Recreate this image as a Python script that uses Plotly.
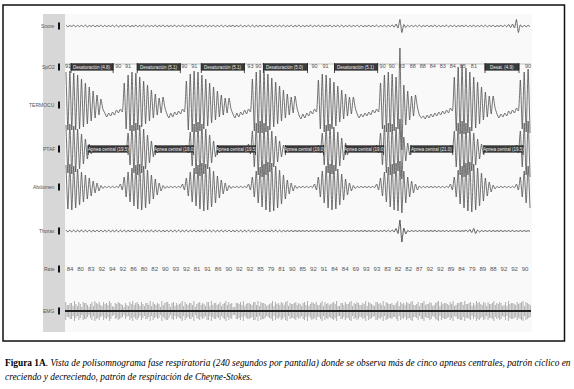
import plotly.graph_objects as go

# ---------------- data ----------------
SLOT = 2.0          # seconds per breath slot (120 slots = 240 s screen)
RATE_EPOCH = 5.45   # seconds between printed heart-rate values

channels = ["Snore", "SpO2", "TERMOCU", "PTAF", "Abdomen", "Thorax", "Rate", "EMG"]

termocu_hi = [33, 34, 32, 30, 26, 22, 18, 14, 10,
              6, -8, -8, -7, -5, -4,
              22, 30, 33, 32, 28, 24, 20, 15, 11, 7,
              8, -9, -8, -7, -6, -4,
              24, 31, 34, 33, 30, 26, 22, 18, 14, 10, 7,
              7, -9, -8, -7, -5, -4,
              26, 33, 35, 34, 31, 27, 23, 19, 15, 11, 8,
              9, -10, -9, -8, -6, -4,
              25, 31, 30, 27, 23, 19, 15, 11, 8,
              8, -9, -9, -8, -7, -5, -4,
              22, 30, 33, 31, 28, 57, 20, 14, 9,
              10, -10, -11, -10, -9, -8, -7, -6, -5, -3,
              28, 38, 40, 37, 33, 28, 23, 18, 13, 9,
              9, -9, -9, -8, -6, -5, -3,
              25, 33, 36]
termocu_lo = [-25, -25, -25, -24, -22, -19, -16, -13, -10,
              -4, -12, -11, -10, -8, -7,
              -24, -26, -26, -25, -22, -19, -16, -13, -10, -8,
              -3, -13, -12, -10, -9, -7,
              -25, -27, -27, -26, -24, -21, -18, -15, -12, -10, -8,
              -4, -13, -12, -10, -9, -7,
              -26, -28, -28, -27, -25, -22, -19, -16, -13, -10, -8,
              -3, -14, -13, -11, -9, -7,
              -24, -27, -26, -24, -21, -17, -14, -11, -9,
              -3, -13, -12, -11, -10, -8, -7,
              -24, -27, -27, -26, -24, -45, -20, -15, -11,
              -2, -13, -14, -13, -12, -11, -10, -9, -8, -6,
              -26, -29, -29, -28, -26, -23, -19, -15, -12, -9,
              -3, -13, -12, -11, -9, -8, -6,
              -24, -27, -28]
ptaf_amp = [24, 25, 23, 20, 15, 10,
            5, 2, 1, 0.6, 0.6, 0.6, 0.6, 0.6, 0.6, 3,
            16, 24, 26, 24, 20, 14, 8,
            4, 1, 0.6, 0.6, 0.6, 0.6, 0.6, 0.6, 4,
            17, 25, 27, 25, 20, 14, 8,
            4, 1, 0.6, 0.6, 0.6, 0.6, 0.6, 0.6, 5,
            18, 26, 28, 26, 23, 18, 13, 8, 4,
            1, 0.6, 0.6, 0.6, 0.6, 0.6, 0.6, 0.6, 4,
            16, 24, 25, 22, 17, 11, 6,
            2, 0.6, 0.6, 0.6, 0.6, 0.6, 0.6, 4,
            16, 24, 26, 25, 22, 30, 12, 6,
            2, 0.6, 0.6, 0.6, 0.6, 0.6, 0.6, 0.6, 0.6, 0.6, 4,
            18, 26, 28, 26, 22, 16, 10, 5,
            2, 0.6, 0.6, 0.6, 0.6, 0.6, 0.6, 0.6, 4,
            18, 26, 28]
abdomen_amp = [22, 23, 21, 18, 15, 12, 9, 6, 4,
               1.5, 0.7, 0.7, 0.7, 0.7, 3,
               10, 15, 19, 22, 23, 21, 17, 12, 8, 4,
               1.5, 0.7, 0.7, 0.7, 0.7, 3,
               9, 15, 19, 22, 24, 23, 20, 16, 11, 7, 4,
               1.5, 0.7, 0.7, 0.7, 0.7, 3,
               10, 16, 20, 23, 25, 24, 21, 17, 12, 7, 4,
               1.5, 0.7, 0.7, 0.7, 0.7, 3,
               10, 16, 21, 23, 22, 18, 13, 8, 4,
               1.5, 0.7, 0.7, 0.7, 0.7, 0.7, 3,
               9, 15, 20, 23, 24, 26, 16, 10, 6,
               3, 1, 0.7, 0.7, 0.7, 0.7, 0.7, 0.7, 0.7, 3,
               10, 17, 21, 24, 25, 23, 19, 14, 9, 5,
               2, 0.7, 0.7, 0.7, 0.7, 0.7, 3,
               10, 16, 21]
snore_amp = [0.8, 0.5, 0.9, 0.6, 0.7, 1.0, 0.5, 0.8, 0.6, 0.9,
             0.7, 0.5, 0.8, 1.0, 0.6, 0.7, 0.9, 0.5, 0.8, 0.6,
             0.9, 0.7, 0.5, 0.8, 0.6, 1.0, 0.7, 0.5, 0.9, 0.6,
             0.8, 0.5, 0.7, 0.9, 0.6, 0.8, 1.0, 0.5, 0.7, 0.6,
             0.9, 0.8, 0.5, 0.7, 0.6, 0.9, 0.5, 0.8, 1.0, 0.6,
             0.7, 0.9, 0.5, 0.8, 0.6, 0.7, 0.9, 0.5, 0.8, 0.6,
             1.0, 0.7, 0.5, 0.9, 0.6, 0.8, 0.7, 0.5, 0.9, 0.6,
             0.8, 1.0, 0.5, 0.7, 0.6, 0.9, 0.8, 0.5, 0.7, 0.6,
             0.9, 0.5, 0.8, 0.7, 1.2, 2.0, 6.5, 1.5, 0.8, 0.6,
             0.7, 0.9, 0.5, 0.8, 0.6, 1.0, 0.7, 0.5, 0.9, 0.6,
             0.8, 0.5, 0.7, 0.9, 0.6, 0.8, 0.5, 0.7, 0.9, 0.6,
             0.8, 0.5, 0.7, 0.9, 1.5, 2.0, 6.5, 1.2, 0.7, 0.6]
thorax_amp = [0.9, 0.8, 0.9, 0.7, 0.9, 0.8, 0.9, 0.7, 0.8, 0.9,
              0.8, 0.9, 0.7, 0.9, 0.8, 0.9, 0.7, 0.8, 0.9, 0.8,
              0.9, 0.7, 0.9, 0.8, 0.9, 0.7, 0.8, 0.9, 0.8, 0.9,
              0.7, 0.9, 0.8, 0.9, 0.7, 0.8, 0.9, 0.8, 0.9, 0.7,
              0.9, 0.8, 0.9, 0.7, 0.8, 0.9, 0.8, 0.9, 0.7, 0.9,
              0.8, 0.9, 0.7, 0.8, 0.9, 0.8, 0.6, 0.5, 0.5, 0.4,
              0.4, 0.4, 0.5, 0.4, 0.4, 0.5, 0.4, 0.4, 0.5, 0.4,
              0.4, 0.5, 0.4, 0.4, 0.5, 0.4, 0.4, 0.5, 0.4, 0.4,
              0.5, 0.4, 0.6, 0.8, 1.0, 2.5, 11.0, 3.0, 0.6, 0.4,
              0.4, 0.4, 0.5, 0.4, 0.4, 0.5, 0.4, 0.4, 0.5, 0.4,
              0.4, 0.5, 0.4, 0.8, 1.5, 2.5, 1.0, 0.4, 0.4, 0.5,
              0.4, 0.4, 0.5, 0.4, 0.4, 0.5, 0.4, 0.4, 0.5, 0.4]
# EMG: tall bursts and, in between them, shorter ones
emg_amp = [9, 6, 8, 10, 5, 7, 9, 8, 4, 9, 10, 7, 6, 9, 8, 10, 5, 8, 9, 7,
           4, 6, 9, 10, 8, 7, 9, 5, 8, 10, 9, 6, 7, 10, 8, 9, 4, 9, 8, 7,
           10, 9, 6, 8, 10, 7, 9, 8, 5, 9, 10, 8, 6, 9, 7, 10, 9, 8, 4, 8,
           9, 10, 7, 8, 6, 9, 10, 9, 8, 5, 7, 10, 9, 8, 9, 6, 10, 8, 7, 9,
           8, 5, 9, 10, 7, 8, 9, 6, 10, 9, 8, 7, 9, 10, 5, 8, 9, 7, 10, 8,
           9, 6, 8, 10, 9, 7, 5, 9, 8, 10, 9, 7, 8, 6, 10, 9, 8, 9, 7, 10,
           6, 9, 8, 10, 7, 9, 5, 8, 10, 9, 8, 7, 9, 10, 6, 8, 9, 10, 7, 9,
           8, 10, 9, 6, 8, 9, 7, 10, 8, 9, 5, 9, 10, 8, 7, 9, 8, 10, 9, 7]
emg_amp_mid = [6, 8, 5, 7, 9, 4, 8, 6, 7, 5, 8, 9, 5, 7, 6, 8, 4, 7, 8, 6,
               8, 5, 7, 6, 9, 5, 7, 8, 6, 5, 7, 8, 4, 6, 9, 7, 8, 5, 6, 8,
               5, 7, 8, 6, 4, 8, 6, 7, 9, 5, 6, 8, 7, 5, 8, 6, 7, 4, 8, 7,
               6, 5, 8, 7, 9, 6, 5, 8, 7, 6, 8, 5, 7, 6, 8, 9, 5, 7, 8, 6,
               7, 8, 6, 5, 9, 7, 6, 8, 5, 7, 6, 8, 7, 5, 8, 6, 7, 9, 5, 7,
               8, 6, 7, 5, 8, 6, 9, 7, 6, 5, 8, 7, 6, 8, 5, 7, 6, 8, 9, 6,
               7, 5, 8, 6, 7, 8, 6, 9, 5, 7, 8, 6, 7, 5, 8, 9, 6, 7, 8, 5,
               6, 8, 7, 9, 5, 7, 8, 6, 7, 8, 6, 5, 7, 8, 6, 7, 9, 5, 8, 6]
rate_vals = [84, 80, 83, 92, 94, 92, 86, 80, 82, 90, 93, 92, 81, 91, 86, 90, 92, 92, 85, 79, 81, 90,
             85, 92, 91, 84, 84, 69, 93, 93, 83, 82, 82, 87, 92, 92, 89, 84, 79, 89, 88, 92, 92, 90]
spo2_t = [1.6, 27.4, 32.5, 61.4, 66.6, 95.5, 99.6, 128.5, 134.2, 163.6, 168.3, 173.4,
          179.1, 184.3, 189.4, 194.6, 199.7, 204.9, 210.6, 238.5]
spo2_vals = [91, 90, 91, 90, 91, 93, 90, 90, 91, 90, 90, 83, 88, 88, 84, 83, 84, 85, 81, 90]
desat_start = [3.1, 37.2, 70.2, 102.2, 138.8, 216.3]
desat_end = [24.8, 59.4, 92.4, 124.9, 161.0, 233.8]
desat_label = ["Desaturación (4.8)", "Desaturación (5.1)", "Desaturación (5.1)",
               "Desaturación (5.0)", "Desaturación (5.1)", "Desat. (4.9)"]
apnea_start = [11.9, 46.5, 78.5, 113.5, 144.5, 178.1, 215.7]
apnea_end = [32.5, 66.1, 98.1, 133.2, 164.1, 199.7, 235.9]
apnea_label = ["Apnea central (19.5)", "Apnea central (19.0)", "Apnea central (19.5)",
               "Apnea central (19.0)", "Apnea central (19.0)", "Apnea central (21.0)",
               "Apnea central (19.5)"]

caption_1 = ("<b>Figura 1A</b><i>. Vista de polisomnograma fase respiratoria (240 segundos por pantalla) "
             "donde se observa más de cinco apneas centrales, patrón cíclico en</i>")
caption_2 = "<i>creciendo y decreciendo, patrón de respiración de Cheyne-Stokes.</i>"

# ---------------- layout constants ----------------
W, H = 574, 389
X0, X1 = 65, 531            # signal area (pixels)
base = {"Snore": 26, "SpO2": 67, "TERMOCU": 105, "PTAF": 149,
        "Abdomen": 187, "Thorax": 231, "Rate": 269, "EMG": 311}
INK = "#474747"
NARROW = "Liberation Sans Narrow, Arial Narrow, sans-serif"


def px(x):
    return x / W


def py(y):
    return 1 - y / H


def wave(hi, lo, b):
    xs, ys = [], []
    for i, (h, l) in enumerate(zip(hi, lo)):
        xs += [i * SLOT + 0.5, i * SLOT + 1.5]
        ys += [b - h, b - l]
    return xs, ys


fig = go.Figure()

# respiratory waveforms
for name, hi, lo, width in [
    ("TERMOCU", termocu_hi, termocu_lo, 0.75),
    ("PTAF", ptaf_amp, [-a for a in ptaf_amp], 0.75),
    ("Abdomen", abdomen_amp, [-a for a in abdomen_amp], 0.75),
    ("Snore", snore_amp, [-a for a in snore_amp], 0.8),
    ("Thorax", thorax_amp, [-a for a in thorax_amp], 0.9),
]:
    xs, ys = wave(hi, lo, base[name])
    fig.add_trace(go.Scatter(x=xs, y=ys, mode="lines",
                             line=dict(color=INK, width=width, shape="spline", smoothing=0.5),
                             hoverinfo="skip", showlegend=False))

# EMG: vertical bursts around a dark baseline
step = 240.0 / len(emg_amp)
ex, ey = [], []
for i, (a, m) in enumerate(zip(emg_amp, emg_amp_mid)):
    t = (i + 0.25) * step
    tm = (i + 0.75) * step
    ex += [t, t, None, tm, tm, None]
    ey += [base["EMG"] - a, base["EMG"] + a, None, base["EMG"] - m, base["EMG"] + m, None]
fig.add_trace(go.Scatter(x=ex, y=ey, mode="lines", line=dict(color="#9a9a9a", width=0.8),
                         hoverinfo="skip", showlegend=False))
fig.add_trace(go.Scatter(x=[0, 240], y=[base["EMG"], base["EMG"]], mode="lines",
                         line=dict(color="#222", width=2), hoverinfo="skip", showlegend=False))

# SpO2 numbers and heart-rate numbers
fig.add_trace(go.Scatter(x=[0, 240], y=[base["SpO2"] - 3, base["SpO2"] - 3], mode="lines",
                         line=dict(color="#a0a0a0", width=0.6), hoverinfo="skip", showlegend=False))
fig.add_trace(go.Scatter(x=spo2_t, y=[base["SpO2"]] * len(spo2_t), mode="text",
                         text=[str(v) for v in spo2_vals],
                         textfont=dict(size=5.5, color="#555", family=NARROW),
                         cliponaxis=False, hoverinfo="skip", showlegend=False))
rate_t = [2.6 + RATE_EPOCH * k for k in range(len(rate_vals))]
fig.add_trace(go.Scatter(x=rate_t, y=[base["Rate"]] * len(rate_vals), mode="text",
                         text=[str(v) for v in rate_vals],
                         textfont=dict(size=6, color="#555", family=NARROW),
                         cliponaxis=False, hoverinfo="skip", showlegend=False))

shapes = []
annotations = []
# frame, label strip, panel
shapes.append(dict(type="rect", xref="paper", yref="paper", x0=px(43), x1=px(532), y0=py(332), y1=py(14),
                   fillcolor="#f9f9f9", line=dict(width=0), layer="below"))
shapes.append(dict(type="rect", xref="paper", yref="paper", x0=px(43), x1=px(65), y0=py(332), y1=py(14),
                   fillcolor="#d7d7d7", line=dict(width=0), layer="below"))
shapes.append(dict(type="rect", xref="paper", yref="paper", x0=px(3), x1=px(564.5), y0=py(341), y1=py(5),
                   line=dict(color="#111", width=1.5)))

# channel labels with small markers
for name in channels:
    annotations.append(dict(xref="paper", yref="paper", x=px(57), y=py(base[name]), text=name,
                            showarrow=False, xanchor="right", yanchor="middle",
                            font=dict(size=5, color="#555", family=NARROW)))
    shapes.append(dict(type="rect", xref="paper", yref="paper", x0=px(58), x1=px(60),
                       y0=py(base[name] + 3.5), y1=py(base[name] - 3.5),
                       fillcolor="#111", line=dict(width=0)))


# event boxes
def event_boxes(starts, ends, labels, yc):
    for s, e, lab in zip(starts, ends, labels):
        shapes.append(dict(type="rect", xref="x", yref="y", x0=s, x1=e, y0=yc - 3.3, y1=yc + 3.3,
                           fillcolor="#3b3b3b", line=dict(color="#222", width=0.6), layer="above"))
        shapes.append(dict(type="line", xref="x", yref="y", x0=s, x1=s, y0=yc - 4, y1=yc + 6,
                           line=dict(color="#222", width=0.8), layer="above"))
        shapes.append(dict(type="line", xref="x", yref="y", x0=e, x1=e, y0=yc - 4, y1=yc + 6,
                           line=dict(color="#222", width=0.8), layer="above"))
        annotations.append(dict(xref="x", yref="y", x=(s + e) / 2, y=yc, text=lab, showarrow=False,
                                font=dict(size=4.5, color="#eee", family=NARROW)))


event_boxes(desat_start, desat_end, desat_label, base["SpO2"])
event_boxes(apnea_start, apnea_end, apnea_label, base["PTAF"])

# caption
for txt, yy in [(caption_1, 363), (caption_2, 377)]:
    annotations.append(dict(xref="paper", yref="paper", x=px(3), y=py(yy), text=txt, showarrow=False,
                            xanchor="left", yanchor="middle",
                            font=dict(size=9.35, color="#000", family="Liberation Serif, Times New Roman, serif")))

fig.update_layout(
    width=W, height=H, margin=dict(l=0, r=0, t=0, b=0),
    paper_bgcolor="white", plot_bgcolor="rgba(0,0,0,0)",
    xaxis=dict(domain=[px(X0), px(X1)], range=[0, 240], visible=False, fixedrange=True),
    yaxis=dict(domain=[0, 1], range=[H, 0], visible=False, fixedrange=True),
    shapes=shapes, annotations=annotations, showlegend=False,
)

fig.write_html("out.html", config={"displayModeBar": False},
               post_script="document.body.style.margin='0';document.body.style.overflow='hidden';")
